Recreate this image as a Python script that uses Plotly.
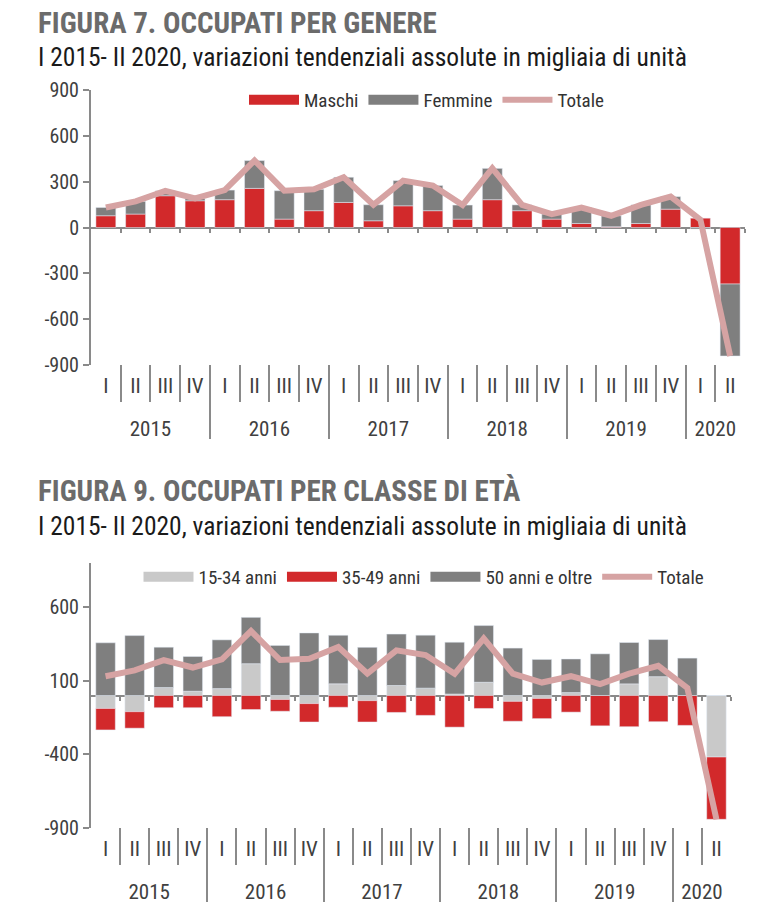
import plotly.graph_objects as go

# ---------------- data ----------------
years = ["2015"] * 4 + ["2016"] * 4 + ["2017"] * 4 + ["2018"] * 4 + ["2019"] * 4 + ["2020"] * 2
quarters = ["I", "II", "III", "IV"] * 5 + ["I", "II"]

# Figura 7 - per genere (migliaia)
maschi = [77, 88, 208, 175, 182, 256, 55, 110, 164, 44, 142, 110, 55, 182, 110, 55, 26, 5, 26, 120, 61, -370]
femmine = [54, 83, 32, 15, 63, 182, 186, 140, 165, 105, 165, 165, 92, 205, 38, 33, 105, 72, 122, 82, -10, -471]
totale = [131, 171, 240, 190, 245, 438, 241, 250, 329, 149, 307, 275, 147, 387, 148, 88, 131, 77, 148, 202, 51, -841]

# Figura 9 - per classe di età (migliaia)
eta_15_34 = [-88, -110, 54, 29, 47, 216, -27, -55, 79, -35, 68, 50, 10, 90, -40, -20, 20, 0, 79, 128, 0, -418]
eta_35_49 = [-146, -112, -83, -83, -144, -95, -80, -125, -80, -145, -115, -135, -215, -88, -135, -137, -113, -206, -212, -178, -203, -423]
eta_50_oltre = [358, 407, 274, 236, 331, 315, 340, 425, 330, 327, 349, 360, 352, 385, 322, 245, 228, 283, 281, 252, 254, 0]

yticks_top = [-900, -600, -300, 0, 300, 600, 900]
yticks_bot = [-900, -400, 100, 600]

title1 = "FIGURA 7. OCCUPATI PER GENERE"
title2 = "FIGURA 9. OCCUPATI PER CLASSE DI ETÀ"
subtitle = "I 2015- II 2020, variazioni tendenziali assolute in migliaia di unità"

# ---------------- style ----------------
RED = "#d2292b"
DARK = "#7f7f7f"
LIGHT = "#c9c9c9"
PINK = "#d6a3a3"
AXC = "#8a8a8a"
TXT = "#404040"
NARROW = "Liberation Sans Narrow, Arial Narrow, Roboto Condensed, sans-serif"

W, H = 767, 918
L, R = 91, 22
PW = W - L - R


def py(px):
    return 1 - px / H


top_dom = [py(365), py(90)]
bot_dom = [py(828), py(563)]
bot_xdom = [0, (731 - L) / PW]

x = [years, quarters]
n = len(quarters)
idx = list(range(n))
bounds = [i + 0.5 for i in range(n)]
year_list = list(dict.fromkeys(years))
year_centers = [sum(i for i in idx if years[i] == yy) / years.count(yy) for yy in year_list]
year_bounds = [-0.5] + [i - 0.5 for i in range(1, n) if years[i] != years[i - 1]] + [n - 0.5]

fig = go.Figure()

# --- top chart ---
fig.add_bar(x=x, y=maschi, name="Maschi", marker_color=RED, xaxis="x", yaxis="y", showlegend=False)
fig.add_bar(x=x, y=femmine, name="Femmine", marker_color=DARK, xaxis="x", yaxis="y", showlegend=False)
fig.add_scatter(x=x, y=totale, name="Totale", mode="lines", line=dict(color=PINK, width=6),
                xaxis="x", yaxis="y", showlegend=False)
for nm, col, wd in [("Maschi", RED, 11), ("Femmine", DARK, 11), ("Totale", PINK, 6)]:
    fig.add_scatter(x=[None], y=[None], mode="lines", name=nm, line=dict(color=col, width=wd),
                    xaxis="x", yaxis="y", legend="legend", showlegend=True)

# --- bottom chart ---
fig.add_bar(x=x, y=eta_15_34, name="15-34 anni", marker_color=LIGHT, xaxis="x2", yaxis="y2", showlegend=False)
fig.add_bar(x=x, y=eta_35_49, name="35-49 anni", marker_color=RED, xaxis="x2", yaxis="y2", showlegend=False)
fig.add_bar(x=x, y=eta_50_oltre, name="50 anni e oltre", marker_color=DARK, xaxis="x2", yaxis="y2", showlegend=False)
fig.add_scatter(x=x, y=totale, name="Totale", mode="lines", line=dict(color=PINK, width=6),
                xaxis="x2", yaxis="y2", showlegend=False)
for nm, col, wd in [("15-34 anni", LIGHT, 11), ("35-49 anni", RED, 11), ("50 anni e oltre", DARK, 11), ("Totale", PINK, 6)]:
    fig.add_scatter(x=[None], y=[None], mode="lines", name=nm, line=dict(color=col, width=wd),
                    xaxis="x2", yaxis="y2", legend="legend2", showlegend=True)

cat_axis = dict(type="multicategory", visible=False, fixedrange=True)
y_axis = dict(range=[-900, 900], showline=True, linecolor=AXC, linewidth=2, ticks="outside",
              ticklen=6, tickwidth=2, tickcolor=AXC, showgrid=False, zeroline=True,
              zerolinecolor=AXC, zerolinewidth=2, tickfont=dict(family=NARROW, size=20, color=TXT))
over = dict(type="linear", range=[-0.5, n - 0.5], anchor="free", showline=False, showgrid=False,
            zeroline=False, showticklabels=False, tickmode="array", tickcolor=AXC, tickwidth=2,
            fixedrange=True)
lab_font = dict(family=NARROW, size=21, color=TXT)

layout_axes = {}
ax_num = 3
specs = [("x", "y", top_dom, 365), ("x2", "y2", bot_dom, 828)]
for base, yax, dom, axis_px in specs:
    overs = [
        # small ticks on the zero line
        dict(over, position=(dom[0] + dom[1]) / 2, ticks="outside", ticklen=4, tickvals=bounds),
        # separators between quarters
        dict(over, position=py(axis_px + 37), ticks="inside", ticklen=37, tickvals=bounds[:-1]),
        # separators between years
        dict(over, position=py(axis_px + 74), ticks="inside", ticklen=74, tickvals=year_bounds),
        # quarter labels
        dict(over, position=py(axis_px + 6), ticks="", showticklabels=True, tickvals=idx,
             ticktext=quarters, tickfont=lab_font),
        # year labels
        dict(over, position=py(axis_px + 49), ticks="", showticklabels=True, tickvals=year_centers,
             ticktext=year_list, tickfont=lab_font),
    ]
    for o in overs:
        name = "x%d" % ax_num
        layout_axes["xaxis%d" % ax_num] = dict(o, overlaying=base)
        fig.add_scatter(x=[None], y=[None], xaxis=name, yaxis=yax, showlegend=False, hoverinfo="skip")
        ax_num += 1

fig.update_layout(
    width=W, height=H, margin=dict(l=L, r=R, t=0, b=0, autoexpand=False),
    paper_bgcolor="white", plot_bgcolor="white",
    barmode="relative", bargap=0.33,
    xaxis=dict(cat_axis, domain=[0, 1], anchor="y"),
    yaxis=dict(y_axis, domain=top_dom, anchor="x", tickvals=yticks_top,
               ticktext=[str(v) for v in yticks_top]),
    xaxis2=dict(cat_axis, domain=bot_xdom, anchor="y2"),
    yaxis2=dict(y_axis, domain=bot_dom, anchor="x2", tickvals=yticks_bot,
                ticktext=[str(v) for v in yticks_bot]),
    legend=dict(orientation="h", x=(427 - L) / PW, xanchor="center", y=py(100), yanchor="middle",
                itemwidth=50, font=dict(family=NARROW, size=19, color="#333333"),
                bgcolor="rgba(0,0,0,0)"),
    legend2=dict(orientation="h", x=(424 - L) / PW, xanchor="center", y=py(577), yanchor="middle",
                 itemwidth=50, font=dict(family=NARROW, size=19, color="#333333"),
                 bgcolor="rgba(0,0,0,0)"),
    annotations=[
        dict(text="<b>" + title1 + "</b>", x=(36 - L) / PW, y=py(4), xref="paper", yref="paper",
             xanchor="left", yanchor="top", showarrow=False,
             font=dict(family=NARROW, size=29, color="#6b6b6b")),
        dict(text=subtitle, x=(36 - L) / PW, y=py(40), xref="paper", yref="paper",
             xanchor="left", yanchor="top", showarrow=False,
             font=dict(family=NARROW, size=25.5, color="#1a1a1a")),
        dict(text="<b>" + title2 + "</b>", x=(36 - L) / PW, y=py(472), xref="paper", yref="paper",
             xanchor="left", yanchor="top", showarrow=False,
             font=dict(family=NARROW, size=29, color="#6b6b6b")),
        dict(text=subtitle, x=(36 - L) / PW, y=py(509), xref="paper", yref="paper",
             xanchor="left", yanchor="top", showarrow=False,
             font=dict(family=NARROW, size=25.5, color="#1a1a1a")),
    ],
)
fig.update_layout(**layout_axes)

fig.write_html("out.html")
